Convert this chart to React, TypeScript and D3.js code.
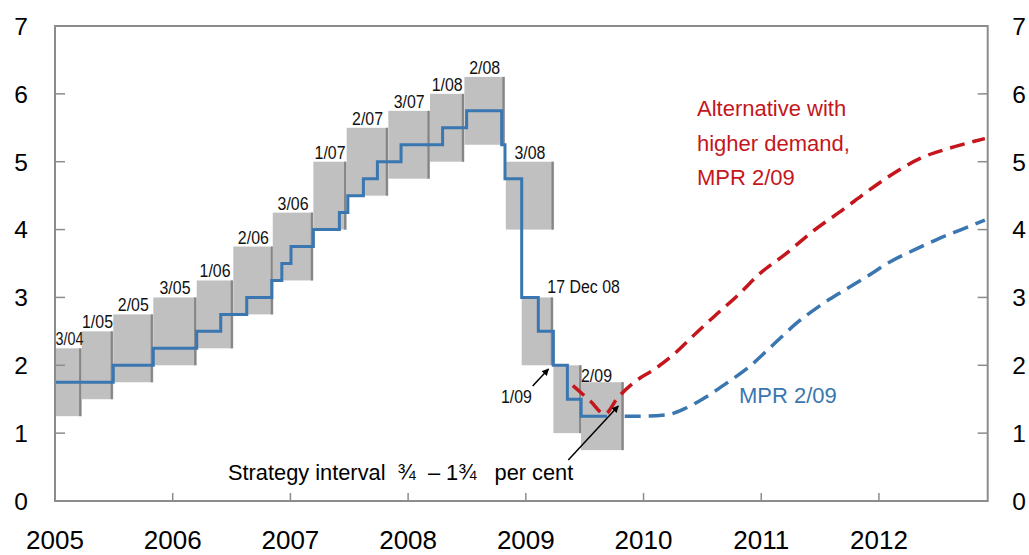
import React from "react";
import * as d3 from "d3";

// ---- Data ----
const yTicks = [0, 1, 2, 3, 4, 5, 6, 7];
const yearTicks = [2005, 2006, 2007, 2008, 2009, 2010, 2011, 2012];

// Strategy intervals (MPR)
const boxLabels = ["3/04", "1/05", "2/05", "3/05", "1/06", "2/06", "3/06", "1/07", "2/07", "3/07", "1/08", "2/08", "3/08", "17 Dec 08", "1/09", "2/09"];
const boxStart = [2005.0, 2005.227, 2005.495, 2005.835, 2006.204, 2006.515, 2006.85, 2007.195, 2007.478, 2007.832, 2008.186, 2008.478, 2008.83, 2008.965, 2009.234, 2009.469];
const boxEnd = [2005.227, 2005.495, 2005.835, 2006.204, 2006.515, 2006.855, 2007.195, 2007.478, 2007.832, 2008.186, 2008.478, 2008.823, 2009.24, 2009.234, 2009.475, 2009.834];
const boxLow = [1.25, 1.5, 1.75, 2.0, 2.25, 2.75, 3.25, 4.0, 4.5, 4.75, 5.0, 5.25, 4.0, 2.0, 1.0, 0.75];
const boxHigh = [2.25, 2.5, 2.75, 3.0, 3.25, 3.75, 4.25, 5.0, 5.5, 5.75, 6.0, 6.25, 5.0, 3.0, 2.0, 1.75];

// Key policy rate (step)
const rateDates = [2005.0, 2005.495, 2005.835, 2006.204, 2006.408, 2006.629, 2006.842, 2006.927, 2007.005, 2007.195, 2007.416, 2007.488, 2007.62, 2007.739, 2007.94, 2008.293, 2008.497, 2008.795, 2008.823, 2008.965, 2009.106, 2009.234, 2009.353, 2009.47, 2009.69];
const rateValues = [1.75, 2.0, 2.25, 2.5, 2.75, 3.0, 3.25, 3.5, 3.75, 4.0, 4.25, 4.5, 4.75, 5.0, 5.25, 5.5, 5.75, 5.25, 4.75, 3.0, 2.5, 2.0, 1.5, 1.25, 1.25];

// Projection MPR 2/09
const baseDates = [2009.84, 2010.0, 2010.2, 2010.35, 2010.5, 2010.7, 2010.9, 2011.1, 2011.3, 2011.5, 2011.7, 2011.9, 2012.1, 2012.3, 2012.5, 2012.7, 2012.9];
const baseValues = [1.25, 1.25, 1.27, 1.36, 1.5, 1.73, 1.98, 2.3, 2.62, 2.88, 3.1, 3.31, 3.53, 3.7, 3.86, 4.0, 4.14];

// Alternative with higher demand
const altDates = [2009.40, 2009.55, 2009.67, 2009.78, 2009.92, 2010.1, 2010.25, 2010.45, 2010.6, 2010.8, 2011.0, 2011.2, 2011.45, 2011.7, 2011.9, 2012.1, 2012.35, 2012.6, 2012.9];
const altValues = [1.70, 1.47, 1.28, 1.52, 1.75, 1.95, 2.15, 2.48, 2.72, 3.03, 3.37, 3.63, 3.99, 4.3, 4.56, 4.8, 5.05, 5.2, 5.34];

const FONT = "'Liberation Sans', Arial, Helvetica, sans-serif";
const BLUE = "#3a76b0";
const RED = "#c4161c";
const AXIS = "#8c8c8c";

export default function App() {
  const W = 1029, H = 555;
  const L = 55, R = 987.7, T = 26, B = 501;
  const x = d3.scaleLinear().domain([2005, 2012.924]).range([L, R]);
  const y = d3.scaleLinear().domain([0, 7]).range([B, T]);

  const stepLine = d3.line<number>()
    .x((_, i) => x(rateDates[i]))
    .y((d) => y(d))
    .curve(d3.curveStepAfter);
  const smooth = (dates: number[]) => d3.line<number>()
    .x((_, i) => x(dates[i]))
    .y((d) => y(d))
    .curve(d3.curveMonotoneX);

  const labelStyle = { fontFamily: FONT, fontSize: 18.5, fill: "#111" };

  return (
    <svg width={W} height={H} style={{ position: "absolute", left: 0, top: 0, background: "#fff" }}>
      <defs>
        <marker id="ah" viewBox="0 0 10 10" refX="9" refY="5" markerWidth="7" markerHeight="7" orient="auto" markerUnits="userSpaceOnUse">
          <path d="M0,0 L10,5 L0,10 z" fill="#000" />
        </marker>
      </defs>
      <rect x={0} y={0} width={W} height={H} fill="#fff" />

      {/* strategy interval boxes */}
      {boxLabels.map((lab, i) => (
        <g key={"b" + i}>
          <rect x={x(boxStart[i])} y={y(boxHigh[i])} width={x(boxEnd[i]) - x(boxStart[i])} height={y(boxLow[i]) - y(boxHigh[i])} fill="#c0c0c0" />
          <line x1={x(boxEnd[i]) - 1.5} x2={x(boxEnd[i]) - 1.5} y1={y(boxHigh[i])} y2={y(boxLow[i])} stroke="#858585" strokeWidth={2.2} />
        </g>
      ))}

      {/* box labels */}
      {boxLabels.map((lab, i) => {
        let cx = (x(boxStart[i]) + x(boxEnd[i])) / 2;
        let by = y(boxHigh[i]) - 3;
        let anchor: any = "middle";
        let sx = 0.86;
        let fs = 18.5;
        if (lab === "3/04") { cx = x(boxStart[i]) + 0.5; anchor = "start"; sx = 0.82; fs = 17.5; }
        if (lab === "17 Dec 08") { cx = x(boxEnd[i]) - 6; by = y(boxHigh[i]) - 4; anchor = "start"; }
        if (lab === "2/09") { cx = x(boxStart[i]); by = y(boxHigh[i]); anchor = "start"; }
        if (lab === "1/09") { cx = x(boxStart[i]) - 37; by = y(boxHigh[i]) + 38; anchor = "middle"; }
        return (
          <text key={"l" + i} transform={`translate(${cx},${by}) scale(${sx},1)`} textAnchor={anchor} style={{ ...labelStyle, fontSize: fs }}>{lab}</text>
        );
      })}

      {/* key policy rate */}
      <path d={stepLine(rateValues) || ""} fill="none" stroke={BLUE} strokeWidth={3} />
      {/* projections */}
      <path d={smooth(altDates)(altValues) || ""} fill="none" stroke={RED} strokeWidth={3.5} strokeDasharray="15 8" />
      <path d={smooth(baseDates)(baseValues) || ""} fill="none" stroke={BLUE} strokeWidth={3.5} strokeDasharray="16 8" />

      {/* frame */}
      <rect x={L} y={T} width={R - L} height={B - T} fill="none" stroke={AXIS} strokeWidth={2} />
      {yTicks.filter((v) => v > 0 && v < 7).map((v) => (
        <g key={"yt" + v}>
          <line x1={L} x2={L + 10} y1={y(v)} y2={y(v)} stroke={AXIS} strokeWidth={1.5} />
          <line x1={R - 10} x2={R} y1={y(v)} y2={y(v)} stroke={AXIS} strokeWidth={1.5} />
        </g>
      ))}
      {yearTicks.filter((v) => v > 2005).map((v) => (
        <line key={"xt" + v} x1={x(v)} x2={x(v)} y1={B} y2={B - 8} stroke={AXIS} strokeWidth={1.5} />
      ))}

      {/* y labels */}
      {yTicks.map((v) => (
        <g key={"yl" + v}>
          <text x={21} y={y(v)} dy="0.36em" textAnchor="middle" style={{ fontFamily: FONT, fontSize: 24.5, fill: "#000" }}>{v}</text>
          <text x={1019} y={y(v)} dy="0.36em" textAnchor="middle" style={{ fontFamily: FONT, fontSize: 24.5, fill: "#000" }}>{v}</text>
        </g>
      ))}
      {/* x labels */}
      {yearTicks.map((v) => (
        <text key={"xl" + v} x={x(v)} y={549} textAnchor="middle" style={{ fontFamily: FONT, fontSize: 26, fill: "#000" }}>{v}</text>
      ))}

      {/* annotations */}
      <text x={697} y={116} style={{ fontFamily: FONT, fontSize: 22, fill: RED }}>Alternative with</text>
      <text x={697} y={150.5} style={{ fontFamily: FONT, fontSize: 22, fill: RED }}>higher demand,</text>
      <text x={697} y={185} style={{ fontFamily: FONT, fontSize: 22, fill: RED }}>MPR 2/09</text>
      <text x={739} y={402.5} style={{ fontFamily: FONT, fontSize: 22, fill: BLUE }}>MPR 2/09</text>
      <text x={228} y={480} style={{ fontFamily: FONT, fontSize: 21.8, fill: "#000", whiteSpace: "pre" }}>{"Strategy interval  ¾  – 1¾   per cent"}</text>

      <line x1={532.7} y1={386} x2={548.5} y2={369} stroke="#000" strokeWidth={1.5} markerEnd="url(#ah)" />
      <line x1={568.3} y1={460} x2={618.3} y2={406} stroke="#000" strokeWidth={1.5} markerEnd="url(#ah)" />
    </svg>
  );
}
